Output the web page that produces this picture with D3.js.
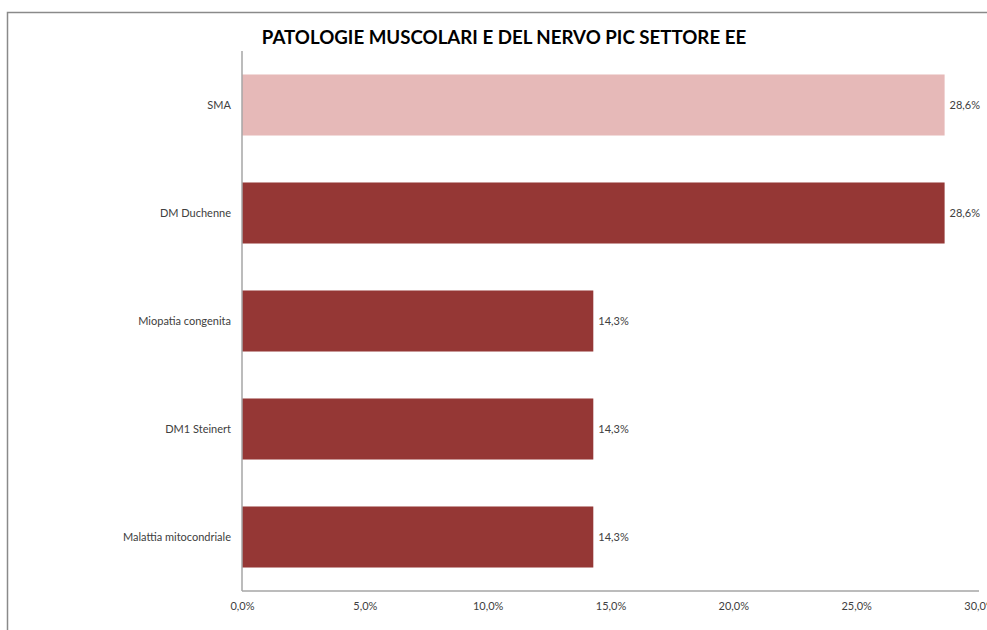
<!DOCTYPE html>
<html>
<head>
<meta charset="utf-8">
<script src="https://cdn.jsdelivr.net/npm/d3@7/dist/d3.min.js"></script>
<style>
  html, body { margin: 0; padding: 0; background: #ffffff; }
  svg { display: block; }
</style>
</head>
<body>
<svg id="chart" width="987" height="630"></svg>
<script>
// Categories, values (percent) and axis ticks
const categories = ["SMA", "DM Duchenne", "Miopatia congenita", "DM1 Steinert", "Malattia mitocondriale"];
const values = [28.6, 28.6, 14.3, 14.3, 14.3];
const highlighted = ["SMA"];
const tickValues = [0, 5, 10, 15, 20, 25, 30];
const title = "PATOLOGIE MUSCOLARI E DEL NERVO PIC SETTORE EE";

const W = 987, H = 630;
const svg = d3.select("#chart");
const fmt = v => d3.format(".1f")(v).replace(".", ",") + "%";

// Outer chart frame (only top and left edges fall inside the view)
svg.append("rect")
  .attr("x", 7.5).attr("y", 12.5)
  .attr("width", W + 20).attr("height", H + 20)
  .attr("fill", "#ffffff")
  .attr("stroke", "#8a8a8a").attr("stroke-width", 1.5);

const plot = { left: 242, right: 979, top: 51, bottom: 591 };

const x = d3.scaleLinear().domain([0, 30]).range([plot.left, plot.right]);
const y = d3.scaleBand().domain(categories)
  .range([plot.top, plot.bottom])
  .paddingInner(0.435).paddingOuter(0.2175);

// Title
svg.append("text")
  .attr("x", 504).attr("y", 44)
  .attr("text-anchor", "middle")
  .attr("font-family", "Lato, 'Open Sans', sans-serif")
  .attr("font-weight", "bold")
  .attr("font-size", 18.7)
  .attr("fill", "#000000")
  .text(title);

// Bars
svg.append("g").selectAll("rect")
  .data(categories)
  .join("rect")
  .attr("x", x(0))
  .attr("y", d => y(d))
  .attr("width", (d, i) => x(values[i]) - x(0))
  .attr("height", y.bandwidth())
  .attr("fill", d => highlighted.includes(d) ? "#e6b9b8" : "#953735");

// Value labels
svg.append("g").selectAll("text")
  .data(categories)
  .join("text")
  .attr("x", (d, i) => x(values[i]) + 5)
  .attr("y", d => y(d) + y.bandwidth() / 2)
  .attr("dy", "0.35em")
  .attr("font-family", "Lato, 'Open Sans', sans-serif")
  .attr("font-size", 11)
  .attr("fill", "#404040")
  .text((d, i) => fmt(values[i]));

// Y axis (category labels)
const yAxis = svg.append("g")
  .attr("transform", `translate(${plot.left},0)`)
  .call(d3.axisLeft(y).tickSize(0).tickPadding(11));
yAxis.select(".domain").attr("stroke", "#a6a6a6").attr("stroke-width", 1.5)
  .attr("d", `M0,${plot.top}V${plot.bottom}`);
yAxis.selectAll("text")
  .attr("font-family", "Lato, 'Open Sans', sans-serif")
  .attr("font-size", 11)
  .attr("fill", "#404040");

// X axis (percent ticks)
const xAxis = svg.append("g")
  .attr("transform", `translate(0,${plot.bottom})`)
  .call(d3.axisBottom(x).tickValues(tickValues).tickFormat(fmt).tickSize(0).tickPadding(11));
xAxis.select(".domain").attr("stroke", "#a6a6a6").attr("stroke-width", 1.5)
  .attr("d", `M${plot.left},0H${plot.right}`);
xAxis.selectAll("text")
  .attr("font-family", "Lato, 'Open Sans', sans-serif")
  .attr("font-size", 11)
  .attr("fill", "#404040");
</script>
</body>
</html>
